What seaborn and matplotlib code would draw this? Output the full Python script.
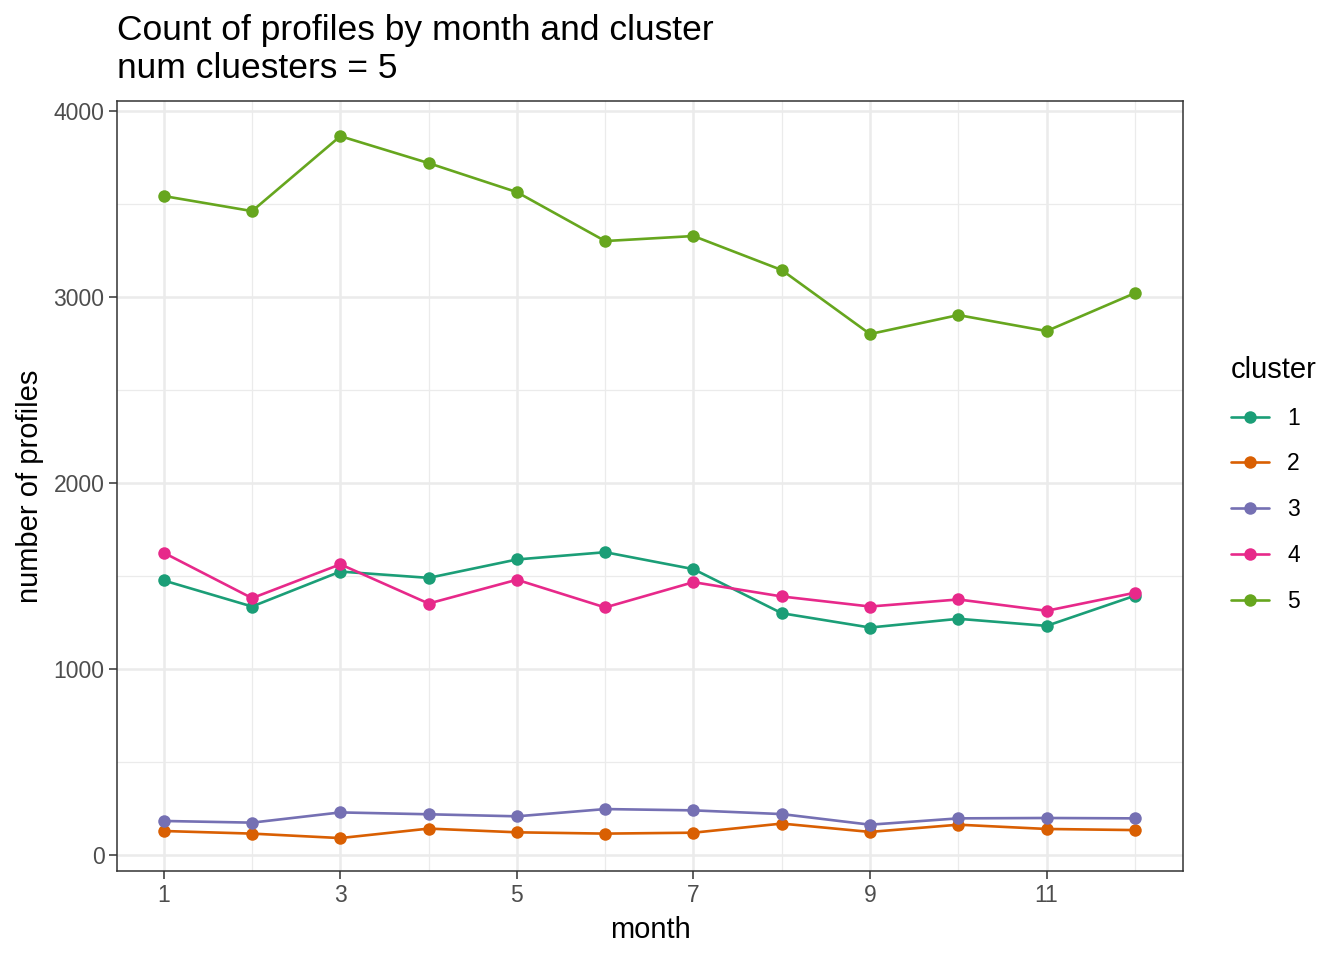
import matplotlib
matplotlib.use("Agg")
import matplotlib.pyplot as plt
import seaborn as sns
import pandas as pd
from matplotlib.lines import Line2D

months = list(range(1, 13))
clusters = ["1", "2", "3", "4", "5"]
c1 = [1476, 1336, 1524, 1490, 1589, 1628, 1537, 1300, 1223, 1270, 1232, 1394]
c2 = [129, 115, 91, 142, 122, 115, 120, 169, 124, 163, 140, 134]
c3 = [183, 174, 229, 219, 208, 247, 240, 220, 163, 197, 199, 197]
c4 = [1625, 1381, 1563, 1352, 1480, 1331, 1467, 1390, 1336, 1374, 1313, 1410]
c5 = [3543, 3462, 3865, 3720, 3564, 3301, 3328, 3145, 2801, 2903, 2817, 3021]
series = [c1, c2, c3, c4, c5]
colors = ["#1B9E77", "#D95F02", "#7570B3", "#E7298A", "#66A61E"]

rows = []
for cl, vals in zip(clusters, series):
    for m, v in zip(months, vals):
        rows.append({"month": m, "count": v, "cluster": cl})
df = pd.DataFrame(rows)

sns.set_theme(style="white")
plt.rcParams["font.family"] = ["Liberation Sans", "DejaVu Sans"]
plt.rcParams["text.color"] = "black"

fig = plt.figure(figsize=(13.44, 9.6), dpi=100)
ax = fig.add_axes([117/1344, 1-871/960, (1183-117)/1344, (871-101)/960])

# grid
for y in [500, 1500, 2500, 3500]:
    ax.axhline(y, color="#EBEBEB", lw=0.9, zorder=0)
for y in [0, 1000, 2000, 3000, 4000]:
    ax.axhline(y, color="#EBEBEB", lw=1.8, zorder=0)
for x in [2, 4, 6, 8, 10, 12]:
    ax.axvline(x, color="#EBEBEB", lw=0.9, zorder=0)
for x in [1, 3, 5, 7, 9, 11]:
    ax.axvline(x, color="#EBEBEB", lw=1.8, zorder=0)

sns.lineplot(data=df, x="month", y="count", hue="cluster", palette=colors,
             marker="o", markersize=9, markeredgewidth=0, linewidth=1.9,
             ax=ax, legend=False, zorder=3)

ax.set_xlim(0.47, 12.545)
ax.set_ylim(-86, 4054)
ax.set_xticks([1, 3, 5, 7, 9, 11])
ax.set_yticks([0, 1000, 2000, 3000, 4000])
ax.tick_params(axis="both", which="major", length=6, width=1.1, color="#333333",
               labelsize=16.5, labelcolor="#4D4D4D", direction="out", pad=3,
               left=True, bottom=True)
for sp in ax.spines.values():
    sp.set_color("#333333")
    sp.set_linewidth(1.1)
ax.set_xlabel("month", fontsize=21, color="black", labelpad=7)
ax.set_ylabel("number of profiles", fontsize=21, color="black", labelpad=7)

fig.text(117/1344, 1-40/960, "Count of profiles by month and cluster", fontsize=25.5,
         ha="left", va="baseline", color="black")
fig.text(117/1344, 1-78/960, "num cluesters = 5", fontsize=25.5, ha="left",
         va="baseline", color="black")

handles = [Line2D([0], [0], color=c, lw=1.9, marker="o", markersize=9, markeredgewidth=0)
           for c in colors]
leg = fig.legend(handles, clusters, title="cluster", loc="upper left",
                 bbox_to_anchor=(1210/1344, 1-335/960), frameon=False,
                 fontsize=16.5, title_fontsize=21, handlelength=1.66,
                 labelspacing=1.0, handletextpad=0.8, alignment="left")
leg.get_title().set_color("black")
for t in leg.get_texts():
    t.set_color("black")

fig.savefig("out.png", dpi=100)
